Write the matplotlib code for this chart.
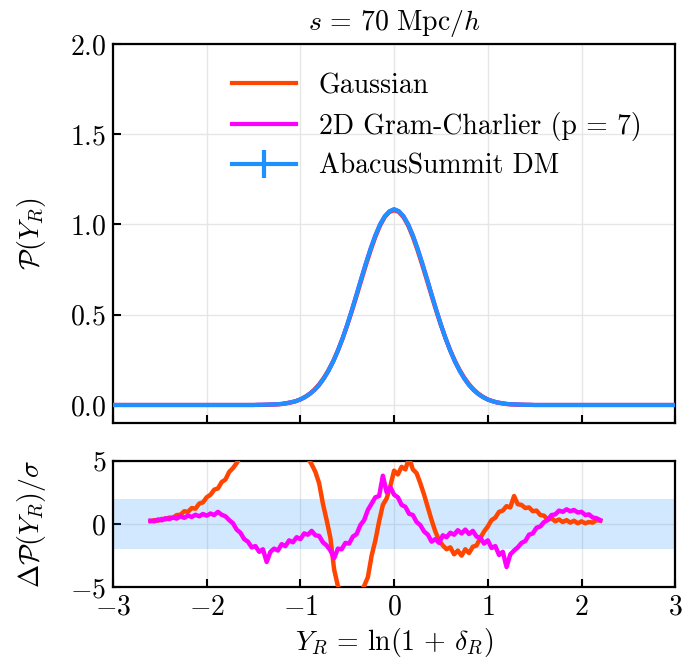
import numpy as np
import matplotlib
matplotlib.use("Agg")
import matplotlib.pyplot as plt

plt.rcParams['font.family'] = 'serif'
plt.rcParams['font.serif'] = ['cmr10']
plt.rcParams['mathtext.fontset'] = 'cm'
plt.rcParams['axes.formatter.use_mathtext'] = True
plt.rcParams['axes.unicode_minus'] = True

# PDF of Y_R = ln(1 + delta_R) at s = 70 Mpc/h
y_grid = np.concatenate([[-3.0], np.round(np.arange(-1.6, 1.601, 0.05), 2), [3.0]])

pdf_dm = [0.0,
          0.0, 0.0, 0.0, 0.001, 0.001, 0.002, 0.003, 0.004, 0.006, 0.010,
          0.015, 0.021, 0.031, 0.044, 0.061, 0.083, 0.111, 0.147, 0.190, 0.241,
          0.301, 0.369, 0.445, 0.527, 0.613, 0.701, 0.786, 0.867, 0.939, 1.000,
          1.045, 1.073,
          1.085,
          1.074, 1.046, 1.000, 0.939, 0.866, 0.785, 0.700, 0.612, 0.526, 0.444,
          0.368, 0.300, 0.240, 0.189, 0.146, 0.110, 0.082, 0.060, 0.043, 0.030,
          0.021, 0.014, 0.010, 0.006, 0.004, 0.003, 0.002, 0.001, 0.001, 0.0,
          0.0, 0.0,
          0.0]
pdf_dm_err = [0.0005] * len(pdf_dm)

pdf_gauss = [0.0,
             0.0, 0.0, 0.0, 0.0, 0.001, 0.001, 0.002, 0.003, 0.005, 0.009,
             0.014, 0.021, 0.031, 0.045, 0.063, 0.086, 0.115, 0.151, 0.194, 0.244,
             0.302, 0.368, 0.441, 0.520, 0.604, 0.690, 0.775, 0.856, 0.930, 0.993,
             1.040, 1.069,
             1.078,
             1.069, 1.040, 0.993, 0.930, 0.856, 0.775, 0.690, 0.604, 0.520, 0.441,
             0.368, 0.302, 0.244, 0.194, 0.151, 0.115, 0.086, 0.063, 0.045, 0.031,
             0.021, 0.014, 0.009, 0.005, 0.003, 0.002, 0.001, 0.001, 0.0, 0.0,
             0.0, 0.0,
             0.0]

pdf_gc = [0.0,
          0.0, 0.0, 0.0, 0.001, 0.001, 0.002, 0.003, 0.004, 0.006, 0.010,
          0.015, 0.021, 0.031, 0.044, 0.061, 0.083, 0.111, 0.147, 0.190, 0.241,
          0.301, 0.369, 0.445, 0.527, 0.613, 0.701, 0.786, 0.867, 0.939, 1.000,
          1.045, 1.072,
          1.083,
          1.073, 1.045, 1.000, 0.939, 0.866, 0.785, 0.700, 0.612, 0.526, 0.444,
          0.368, 0.300, 0.240, 0.189, 0.146, 0.110, 0.082, 0.060, 0.043, 0.030,
          0.021, 0.014, 0.010, 0.006, 0.004, 0.003, 0.002, 0.001, 0.001, 0.0,
          0.0, 0.0,
          0.0]

# residuals (model - sim) / sigma, sampled every 0.04 in Y_R
res_grid = np.round(np.linspace(-2.6, 2.2, 121), 2)

res_gauss = [
    0.22, 0.30, 0.25, 0.40, 0.35, 0.50, 0.48, 0.70, 0.72, 1.00,
    0.95, 1.25, 1.20, 1.60, 1.70, 2.10, 2.30, 2.70, 2.80, 3.30,
    3.50, 4.10, 4.40, 4.80, 5.30, 5.70, 6.10, 6.50, 6.80, 7.10,
    7.30, 7.50, 7.60, 7.70, 7.70, 7.60, 7.40, 7.10, 6.80, 6.40,
    6.00, 5.60, 5.20, 4.70, 4.10, 3.20, 1.60, 0.30, -1.10, -3.60,
    -4.90, -5.50, -6.20, -6.80, -7.00, -6.60, -5.40, -4.90, -4.20, -2.50,
    -1.30, 0.20, 1.50, 2.00, 3.00, 4.20, 3.90, 4.50, 4.30, 5.20,
    4.30, 4.00, 3.20, 2.30, 1.30, 0.30, -0.60, -1.30, -1.70, -2.00,
    -1.85, -2.40, -2.10, -2.50, -2.00, -2.30, -1.80, -1.70, -1.10, -0.60,
    -0.20, 0.30, 0.50, 0.95, 1.05, 1.40, 1.30, 2.20, 1.55, 1.50,
    1.25, 1.30, 1.00, 1.05, 0.70, 0.65, 0.35, 0.45, 0.20, 0.35,
    0.15, 0.30, 0.10, 0.25, 0.05, 0.20, 0.05, 0.15, 0.10, 0.30,
    0.25]

res_gc = [
    0.25, 0.20, 0.35, 0.28, 0.45, 0.38, 0.50, 0.42, 0.60, 0.48,
    0.66, 0.55, 0.72, 0.60, 0.78, 0.65, 0.82, 0.70, 0.95, 0.72,
    0.60, 0.30, 0.05, -0.45, -0.70, -1.20, -1.40, -1.85, -1.75, -2.20,
    -2.00, -3.00, -2.20, -1.95, -2.10, -1.60, -1.75, -1.30, -1.45, -1.05,
    -1.20, -0.75, -0.85, -0.55, -0.90, -0.95, -1.45, -1.70, -2.10, -2.70,
    -1.95, -2.00, -1.50, -1.55, -1.00, -0.80, -0.10, 0.30, 1.10, 1.60,
    2.10, 2.20, 3.80, 2.50, 2.90, 2.30, 2.10, 1.50, 1.35, 0.80,
    0.70, 0.15, -0.10, -0.60, -0.85, -1.40, -1.20, -1.50, -0.90, -1.05,
    -0.70, -0.85, -0.50, -0.75, -0.45, -0.80, -0.55, -1.00, -1.10, -1.55,
    -1.30, -1.90, -1.75, -2.45, -2.20, -3.40, -2.40, -2.10, -1.85, -1.50,
    -1.35, -0.85, -0.75, -0.30, -0.20, 0.15, 0.30, 0.70, 0.75, 1.05,
    0.95, 1.15, 1.00, 1.10, 0.90, 0.95, 0.70, 0.75, 0.50, 0.45,
    0.30]

c_gauss = '#FF4500'
c_gc = '#FF00FF'
c_dm = '#1E90FF'

fig = plt.figure(figsize=(6.89, 6.61), dpi=100)
ax1 = fig.add_axes([0.164, 0.360, 0.816, 0.5735])
ax2 = fig.add_axes([0.164, 0.1115, 0.816, 0.1918])

ax1.plot(y_grid, pdf_gauss, color=c_gauss, lw=3, label='Gaussian', zorder=3)
ax1.plot(y_grid, pdf_gc, color=c_gc, lw=3, label='2D Gram-Charlier (p = 7)', zorder=3)
ax1.errorbar(y_grid, pdf_dm, yerr=pdf_dm_err, color=c_dm, lw=3, elinewidth=3,
             label='AbacusSummit DM', zorder=4)

ax1.set_xlim(-3, 3)
ax1.set_ylim(-0.1, 2.0)
ax1.set_yticks([0.0, 0.5, 1.0, 1.5, 2.0])
ax1.set_yticklabels([r'$0.0$', r'$0.5$', r'$1.0$', r'$1.5$', r'$2.0$'])
ax1.set_xticks([-3, -2, -1, 0, 1, 2, 3])
ax1.tick_params(labelbottom=False)
ax1.set_ylabel(r'$\mathcal{P}(Y_R)$', fontsize=20)
ax1.set_title(r'$s\,=\,70\ \mathrm{Mpc}/h$', fontsize=20, pad=10)
ax1.legend(loc='upper left', bbox_to_anchor=(0.168, 0.99), frameon=False,
           fontsize=20, handlelength=2.3, handletextpad=0.8, labelspacing=0.45)

ax2.axhspan(-2, 2, color=c_dm, alpha=0.2, lw=0, zorder=1)
ax2.plot(res_grid, res_gauss, color=c_gauss, lw=3.2, zorder=3)
ax2.plot(res_grid, res_gc, color=c_gc, lw=3.2, zorder=4)
ax2.set_xlim(-3, 3)
ax2.set_ylim(-5, 5)
ax2.set_yticks([-5, 0, 5])
ax2.set_xticks([-3, -2, -1, 0, 1, 2, 3])
ax2.set_xlabel(r'$Y_R\,=\,\ln(1\,+\,\delta_R)$', fontsize=20)
ax2.set_ylabel(r'$\Delta\mathcal{P}(Y_R)/\sigma$', fontsize=20)

for ax in (ax1, ax2):
    ax.grid(True, color='0.9', lw=1.0, zorder=0)
    ax.set_axisbelow(True)
    ax.tick_params(direction='in', length=6, width=1.5, labelsize=20, pad=5)
    for sp in ax.spines.values():
        sp.set_linewidth(1.6)
    ax.yaxis.set_label_coords(-0.115, 0.5)

fig.savefig('out.png', dpi=100)
